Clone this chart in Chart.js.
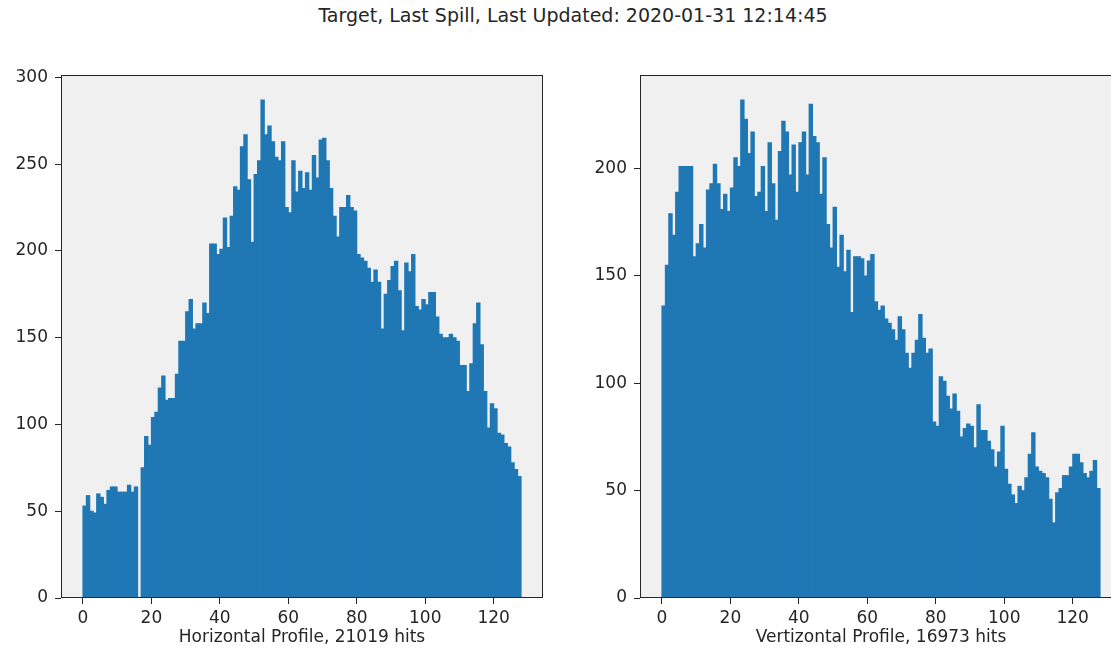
<!DOCTYPE html>
<html>
<head>
<meta charset="utf-8">
<script src="https://cdn.jsdelivr.net/npm/chart.js@4.4.0/dist/chart.umd.min.js"></script>
<style>
  html, body { margin: 0; padding: 0; background: #fff; overflow: hidden; width: 1111px; height: 656px; }
  #title { position: absolute; top: 4px; left: 0; width: 1146px; text-align: center;
           font: 19px "DejaVu Sans"; color: #262626; white-space: nowrap; }
  .box { position: absolute; top: 0; height: 656px; }
  #left { left: 0; }
  #right { left: 579px; }
</style>
</head>
<body>
<div id="title">Target, Last Spill, Last Updated: 2020-01-31 12:14:45</div>
<div class="box" id="left"><canvas id="hChart" width="560" height="656"></canvas></div>
<div class="box" id="right"><canvas id="vChart" width="560" height="656"></canvas></div>
<script>
// hits per channel, 128 bins each
const horizontalHits = [
  53, 59, 50, 49, 60, 58, 54, 62, 64, 64, 61, 61, 61, 65, 61, 64,
  0, 75, 93, 88, 104, 107, 121, 128, 114, 115, 115, 129, 148, 148, 165, 172,
  155, 158, 158, 170, 164, 204, 204, 198, 201, 219, 202, 220, 237, 235, 260, 267,
  241, 205, 244, 252, 287, 267, 272, 263, 254, 252, 263, 225, 222, 252, 234, 246,
  236, 245, 235, 255, 242, 264, 265, 252, 236, 220, 208, 225, 225, 232, 225, 223,
  198, 196, 194, 190, 182, 189, 182, 155, 175, 183, 191, 194, 177, 154, 193, 188,
  198, 168, 166, 172, 169, 176, 176, 162, 152, 150, 150, 152, 150, 148, 134, 134,
  119, 135, 158, 170, 146, 119, 98, 112, 109, 95, 94, 89, 87, 78, 74, 70
];
const verticalHits = [
  136, 155, 179, 169, 189, 201, 201, 201, 201, 159, 165, 174, 163, 190, 193, 202,
  193, 181, 188, 180, 191, 205, 201, 232, 223, 207, 217, 187, 189, 201, 180, 212,
  193, 176, 208, 222, 217, 197, 211, 189, 212, 217, 197, 230, 215, 212, 188, 205,
  174, 163, 182, 154, 169, 152, 162, 133, 159, 159, 158, 150, 157, 160, 138, 134,
  136, 130, 128, 125, 120, 131, 125, 114, 107, 114, 120, 132, 121, 114, 116, 82,
  80, 103, 101, 94, 88, 95, 87, 75, 79, 81, 80, 70, 90, 78, 78, 73,
  69, 61, 68, 80, 60, 53, 48, 44, 52, 50, 56, 67, 77, 61, 59, 58,
  56, 46, 35, 49, 51, 57, 57, 61, 67, 67, 63, 58, 56, 59, 64, 51
];
const xTicks = [0, 20, 40, 60, 80, 100, 120];
const hTicks = [0, 50, 100, 150, 200, 250, 300];
const vTicks = [0, 50, 100, 150, 200];

const font = { family: 'DejaVu Sans', size: 17 };
const textColor = '#262626';

// grey axes background and the four spines
const frame = {
  id: 'frame',
  beforeDraw(chart) {
    const { ctx, chartArea: a } = chart;
    ctx.save();
    ctx.fillStyle = '#f0f0f0';
    ctx.fillRect(a.left, a.top, a.width, a.height);
    ctx.restore();
  },
  afterDraw(chart) {
    const { ctx, chartArea: a } = chart;
    ctx.save();
    ctx.strokeStyle = '#262626';
    ctx.lineWidth = 1;
    ctx.strokeRect(Math.round(a.left) + 0.5, Math.round(a.top) + 0.5,
                   Math.round(a.width) - 1, Math.round(a.height) - 1);
    ctx.restore();
  }
};

function drawProfile(id, counts, yTicks, yMax, label) {
  const ctx = document.getElementById(id).getContext('2d');
  return new Chart(ctx, {
    type: 'bar',
    data: {
      datasets: [{
        data: counts.map((c, i) => ({ x: i + 0.5, y: c })),
        backgroundColor: '#1f77b4',
        borderWidth: 0,
        inflateAmount: 0.5,
        barPercentage: 1,
        categoryPercentage: 1
      }]
    },
    options: {
      responsive: false,
      animation: false,
      devicePixelRatio: 1,
      layout: { padding: { top: 75, right: 17, bottom: 0, left: 0 } },
      plugins: { legend: { display: false }, tooltip: { enabled: false } },
      scales: {
        x: {
          type: 'linear',
          min: -6.4,
          max: 134.4,
          offset: false,
          afterBuildTicks: s => { s.ticks = xTicks.map(v => ({ value: v })); },
          afterFit: s => { s.height = 58; },
          ticks: { font: font, color: textColor, padding: 4, maxRotation: 0, autoSkip: false },
          grid: { drawOnChartArea: false, drawTicks: true, tickLength: 6, color: '#262626', offset: false },
          border: { display: false },
          title: { display: true, text: label, font: font, color: textColor, padding: { top: 0, bottom: 8 } }
        },
        y: {
          min: 0,
          max: yMax,
          afterBuildTicks: s => { s.ticks = yTicks.map(v => ({ value: v })); },
          afterFit: s => { s.width = 61; },
          ticks: { font: font, color: textColor, padding: 7 },
          grid: { drawOnChartArea: false, drawTicks: true, tickLength: 6, color: '#262626' },
          border: { display: false }
        }
      }
    },
    plugins: [frame]
  });
}

drawProfile('hChart', horizontalHits, hTicks, 301.4, 'Horizontal Profile, 21019 hits');
drawProfile('vChart', verticalHits, vTicks, 243.6, 'Vertizontal Profile, 16973 hits');
</script>
</body>
</html>
